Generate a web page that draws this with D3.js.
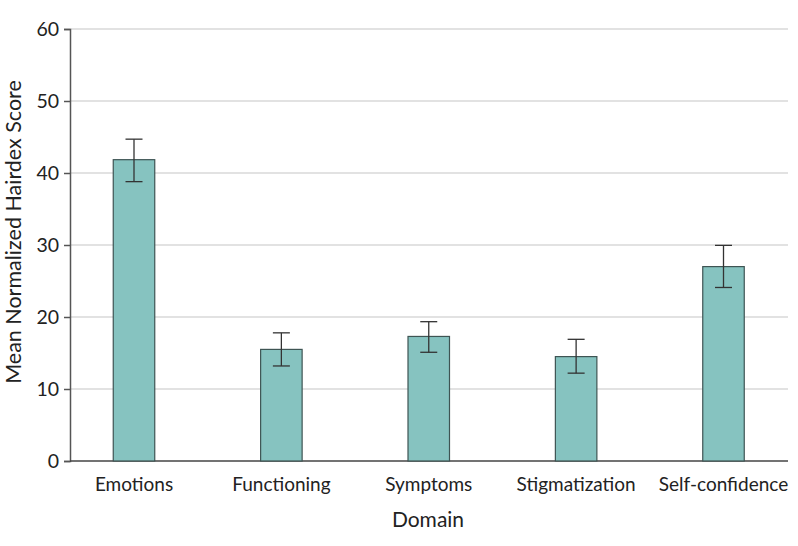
<!DOCTYPE html>
<html><head><meta charset="utf-8">
<script src="https://cdn.jsdelivr.net/npm/d3@7"></script>
<style>body{margin:0;background:#fff}</style>
</head><body>
<svg id="c" width="798" height="546"></svg>
<script>
const categories = ["Emotions","Functioning","Symptoms","Stigmatization","Self-confidence"];
const means = [41.85, 15.5, 17.3, 14.5, 27.0];
const upper = [44.7, 17.8, 19.35, 16.9, 29.95];
const lower = [38.8, 13.2, 15.1, 12.2, 24.1];
const yTicks = [0,10,20,30,40,50,60];

const svg = d3.select("#c");
const font = "Lato, 'Open Sans', sans-serif";
const y = d3.scaleLinear().domain([0,60]).range([461,29]);
const x = d3.scalePoint().domain(categories).range([134,723.5]);
const bw = 41.5, cap = 17;
const left = 70, right = 788;

// gridlines
svg.append("g").selectAll("line").data(yTicks.filter(d=>d>0)).join("line")
  .attr("x1",left).attr("x2",right).attr("y1",d=>y(d)).attr("y2",d=>y(d))
  .attr("stroke","#d9d9d9").attr("stroke-width",1.5);

// y axis
const ya = svg.append("g").attr("transform",`translate(${left},0)`)
  .call(d3.axisLeft(y).tickValues(yTicks).tickSize(6).tickPadding(5));
ya.select(".domain").attr("stroke","#555").attr("stroke-width",1.5);
ya.selectAll(".tick line").attr("stroke","#555").attr("stroke-width",1.5);
ya.selectAll("text").attr("font-family",font).attr("font-size",19.5).attr("fill","#222");

// x axis line
svg.append("line").attr("x1",left).attr("x2",right).attr("y1",y(0)).attr("y2",y(0))
  .attr("stroke","#444").attr("stroke-width",1.5);

// bars
svg.append("g").selectAll("rect").data(categories).join("rect")
  .attr("x",d=>x(d)-bw/2).attr("width",bw)
  .attr("y",(d,i)=>y(means[i])).attr("height",(d,i)=>y(0)-y(means[i]))
  .attr("fill","#86c3c0").attr("stroke","#3e5453").attr("stroke-width",1.2);

// error bars
const eb = svg.append("g").attr("stroke","#333").attr("stroke-width",1.3);
categories.forEach((c,i)=>{
  eb.append("line").attr("x1",x(c)).attr("x2",x(c)).attr("y1",y(upper[i])).attr("y2",y(lower[i]));
  eb.append("line").attr("x1",x(c)-cap/2).attr("x2",x(c)+cap/2).attr("y1",y(upper[i])).attr("y2",y(upper[i]));
  eb.append("line").attr("x1",x(c)-cap/2).attr("x2",x(c)+cap/2).attr("y1",y(lower[i])).attr("y2",y(lower[i]));
});

// x labels
svg.append("g").selectAll("text").data(categories).join("text")
  .attr("x",d=>x(d)).attr("y",491).attr("text-anchor","middle")
  .attr("font-family",font).attr("font-size",19).attr("fill","#222").text(d=>d);

svg.append("text").attr("x",428).attr("y",527).attr("text-anchor","middle")
  .attr("font-family",font).attr("font-size",21).attr("fill","#222").text("Domain");

svg.append("text").attr("transform","translate(21,232) rotate(-90)").attr("text-anchor","middle")
  .attr("font-family",font).attr("font-size",21.5).attr("fill","#222").text("Mean Normalized Hairdex Score");
</script>
</body></html>
